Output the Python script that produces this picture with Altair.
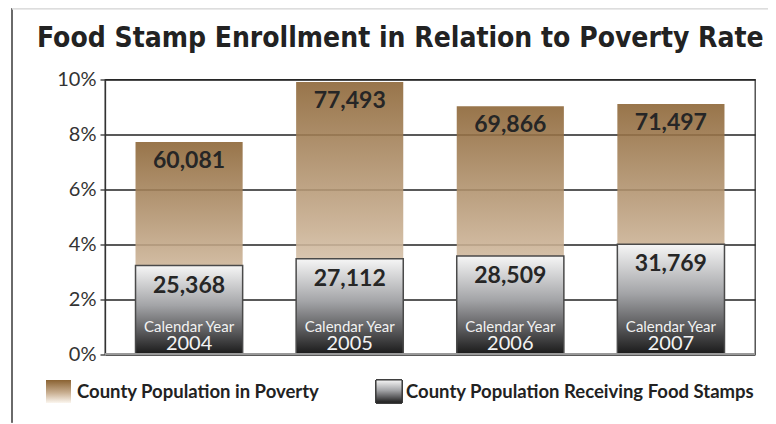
import altair as alt
import pandas as pd

years = ["2004", "2005", "2006", "2007"]
poverty_rate = [7.72, 9.91, 9.03, 9.11]
foodstamp_rate = [3.22, 3.47, 3.57, 4.00]
poverty_count = [60081, 77493, 69866, 71497]
foodstamp_count = [25368, 27112, 28509, 31769]
year_prefix = "Calendar Year"
legend_labels = ["County Population in Poverty", "County Population Receiving Food Stamps"]
title_text = ["Food Stamp Enrollment in Relation to Poverty Rate"]

df = pd.DataFrame({
    "year": years,
    "pov": [v / 100 for v in poverty_rate],
    "fs": [v / 100 for v in foodstamp_rate],
    "pov_n": poverty_count,
    "fs_n": foodstamp_count,
    "prefix": [year_prefix] * len(years),
})

W, H = 650, 274.5

brown_grad = alt.Gradient(
    gradient="linear", x1=0, x2=0, y1=0, y2=1,
    stops=[alt.GradientStop(color="#8a6232", offset=0),
           alt.GradientStop(color="#c8ae90", offset=0.55),
           alt.GradientStop(color="#fbf6ef", offset=1)])
gray_grad = alt.Gradient(
    gradient="linear", x1=0, x2=0, y1=0, y2=1,
    stops=[alt.GradientStop(color="#f6f6f6", offset=0),
           alt.GradientStop(color="#a3a4a7", offset=0.45),
           alt.GradientStop(color="#5a5a5c", offset=0.75),
           alt.GradientStop(color="#1a1a1a", offset=1)])

xenc = alt.X("year:N", axis=None,
             scale=alt.Scale(paddingInner=0.333, paddingOuter=0.19))
yscale = alt.Scale(domain=[0, 0.10], nice=False)
yaxis = alt.Axis(values=[0, 0.02, 0.04, 0.06, 0.08, 0.10], format=".0%",
                 grid=True, gridColor="#222222", gridWidth=1.3, gridOpacity=1,
                 domain=True, domainColor="#333333", domainWidth=1.3,
                 ticks=True, tickSize=5, tickColor="#333333", tickWidth=1.3,
                 labelPadding=4, labelFont="Lato", labelFontSize=20,
                 labelColor="#333333", title=None)

base = alt.Chart(df)

pov_bar = base.mark_bar(color=brown_grad, opacity=0.88).encode(
    x=xenc, y=alt.Y("pov:Q", scale=yscale, axis=yaxis))

fs_bar = base.mark_bar(color=gray_grad, stroke="#4a4a4a", strokeWidth=1.5).encode(
    x=xenc, y=alt.Y("fs:Q", scale=yscale))

pov_txt = base.mark_text(font="Lato", fontWeight="bold", fontSize=23,
                         color="#262626", baseline="middle", dy=19).encode(
    x=xenc, y=alt.Y("pov:Q", scale=yscale), text=alt.Text("pov_n:Q", format=","))

fs_txt = base.mark_text(font="Lato", fontWeight="bold", fontSize=23,
                        color="#262626", baseline="middle", dy=20).encode(
    x=xenc, y=alt.Y("fs:Q", scale=yscale), text=alt.Text("fs_n:Q", format=","))

cy_txt = base.mark_text(font="Lato", fontSize=15, color="#f2f2f2",
                        baseline="middle", dy=-27).encode(
    x=xenc, y=alt.datum(0, scale=yscale), text="prefix:N")

yr_txt = base.mark_text(font="Lato", fontSize=20, color="#f2f2f2",
                        baseline="middle", dy=-10).encode(
    x=xenc, y=alt.datum(0, scale=yscale), text="year:N")

bottom_line = base.mark_rule(color="#9a9a9a", strokeWidth=1.5).encode(
    x=alt.value(0), x2=alt.value(W), y=alt.datum(0, scale=yscale))

# frame around the figure
frame_left = base.mark_rule(color="#6a6a6a", strokeWidth=1.5).encode(
    x=alt.value(-93), y=alt.value(-71), y2=alt.value(343))
frame_top = base.mark_rule(color="#dddddd", strokeWidth=1.5).encode(
    x=alt.value(-93), x2=alt.value(671), y=alt.value(-71))

# title
title = alt.Chart(pd.DataFrame({"t": title_text})).mark_text(
    font="'DejaVu Sans Condensed', 'Liberation Sans Narrow', 'Open Sans', sans-serif",
    fontWeight="bold", fontSize=28,
    color="#222222", align="left", baseline="alphabetic").encode(
    x=alt.value(-68), y=alt.value(-32.5), text="t:N")

# manual legend
leg1_sw = base.mark_rect(color=brown_grad, opacity=0.88).encode(
    x=alt.value(-59), x2=alt.value(-34), y=alt.value(300.5), y2=alt.value(323.5))
leg2_sw = base.mark_rect(color=gray_grad, stroke="#333333", strokeWidth=1).encode(
    x=alt.value(271), x2=alt.value(297), y=alt.value(300.5), y2=alt.value(323.5))
leg1_txt = alt.Chart(pd.DataFrame({"t": [legend_labels[0]]})).mark_text(
    font="Lato", fontWeight="bold", fontSize=18.5, color="#222222",
    align="left", baseline="middle").encode(
    x=alt.value(-28), y=alt.value(312), text="t:N")
leg2_txt = alt.Chart(pd.DataFrame({"t": [legend_labels[1]]})).mark_text(
    font="Lato", fontWeight="bold", fontSize=18.5, color="#222222",
    align="left", baseline="middle").encode(
    x=alt.value(301), y=alt.value(312), text="t:N")

chart = alt.layer(
    pov_bar, fs_bar, bottom_line, pov_txt, fs_txt, cy_txt, yr_txt,
    frame_left, frame_top, title, leg1_sw, leg2_sw, leg1_txt, leg2_txt
).properties(
    width=W, height=H,
    autosize=alt.AutoSizeParams(type="none"),
    padding={"left": 97, "top": 71.5, "right": 13, "bottom": 70},
).configure_view(stroke="#3a3a3a", strokeWidth=1.3)

chart.save("out.html", embed_options={"renderer": "svg", "actions": False})
